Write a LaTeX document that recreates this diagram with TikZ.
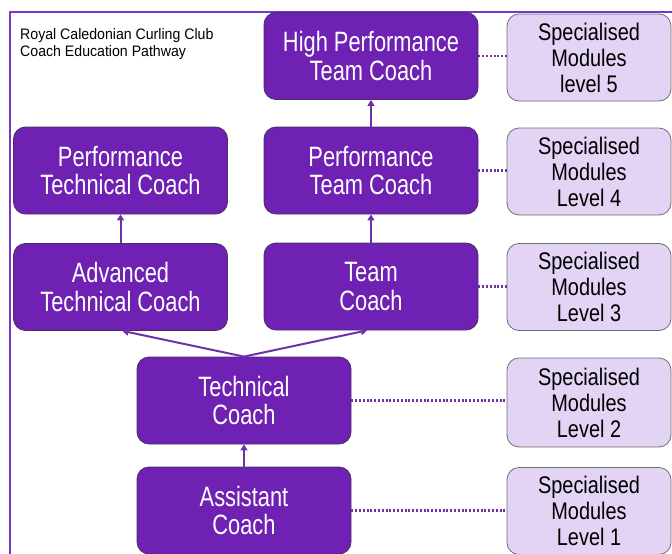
\documentclass[tikz,border=0pt]{standalone}
\usepackage{fontspec}
\setmainfont{Liberation Sans}
\newfontfamily\coachfont[FakeStretch=0.78]{Liberation Sans}
\newfontfamily\modfont[FakeStretch=0.83]{Liberation Sans}
\newfontfamily\titlefont[FakeStretch=0.93]{Liberation Sans}
\usetikzlibrary{arrows.meta}
\definecolor{boxpurple}{HTML}{6F21B3}
\definecolor{boxedge}{HTML}{4A3060}
\definecolor{lav}{HTML}{E3D3F5}
\definecolor{lavedge}{HTML}{6E6E6E}
\definecolor{linepurple}{HTML}{7030A8}
\definecolor{framepurple}{HTML}{7B35C8}
\tikzset{
  coachbox/.style={draw=boxedge, line width=0.8pt, fill=boxpurple, rounded corners=12pt,
    minimum width=214pt, minimum height=87pt, text=white, align=center,
    font=\coachfont\fontsize{28}{28.3}\selectfont, inner sep=0pt},
  modbox/.style={draw=lavedge, line width=0.8pt, fill=lav, rounded corners=12pt,
    minimum width=164pt, minimum height=87pt, text=black, align=center,
    font=\modfont\fontsize{24}{26}\selectfont, inner sep=0pt},
  uparrow/.style={draw=linepurple, line width=2pt, -{Triangle[length=6pt,width=7pt]}},
  dotlink/.style={draw=linepurple, line width=2.2pt, dash pattern=on 2pt off 1.8pt},
  frameline/.style={draw=framepurple, line width=2.2pt}
}
\begin{document}
\begin{tikzpicture}[x=1pt,y=-1pt]
\useasboundingbox (0,0) rectangle (672,554);
% frame
\coordinate (fl) at (10,554);
\coordinate (ftl) at (10,12);
\coordinate (ftr) at (672,12);
\draw[frameline] (fl) -- (ftl) -- (ftr);
% title
\node[anchor=base west, inner sep=0pt, align=left, font=\titlefont\fontsize{15.2}{17}\selectfont] (title) at (20,56.3)
  {Royal Caledonian Curling Club\\Coach Education Pathway};
% coach boxes
\node[coachbox] (hptc) at (371,56) {High Performance\\Team Coach};
\node[coachbox] (ptc) at (371,170.5) {Performance\\Team Coach};
\node[coachbox] (tc) at (371,286.5) {Team\\Coach};
\node[coachbox] (ptech) at (120.5,170.5) {Performance\\Technical Coach};
\node[coachbox] (adv) at (120.5,287) {Advanced\\Technical Coach};
\node[coachbox] (tech) at (244,400.5) {Technical\\Coach};
\node[coachbox] (asst) at (244,510.5) {Assistant\\Coach};
% module boxes
\node[modbox] (m5) at (589,57.5) {Specialised\\Modules\\level 5};
\node[modbox] (m4) at (589,171.5) {Specialised\\Modules\\Level 4};
\node[modbox] (m3) at (589,287) {Specialised\\Modules\\Level 3};
\node[modbox, minimum height=89pt] (m2) at (589,402.5) {Specialised\\Modules\\Level 2};
\node[modbox] (m1) at (589,511) {Specialised\\Modules\\Level 1};
% arrows
\draw[uparrow] (ptc.north) -- (hptc.south);
\draw[uparrow] (tc.north) -- (ptc.south);
\draw[uparrow] (adv.north) -- (ptech.south);
\draw[uparrow] (tech.north) -- ([xshift=2pt]adv.south);
\draw[uparrow] (tech.north) -- ([xshift=-4pt]tc.south);
\draw[uparrow] (asst.north) -- (tech.south);
% dotted links
\draw[dotlink] (hptc.east) -- (m5.west |- hptc.east);
\draw[dotlink] (ptc.east) -- (m4.west |- ptc.east);
\draw[dotlink] (tc.east) -- (m3.west |- tc.east);
\draw[dotlink] (tech.east) -- (m2.west |- tech.east);
\draw[dotlink] (asst.east) -- (m1.west |- asst.east);
\end{tikzpicture}
\end{document}
